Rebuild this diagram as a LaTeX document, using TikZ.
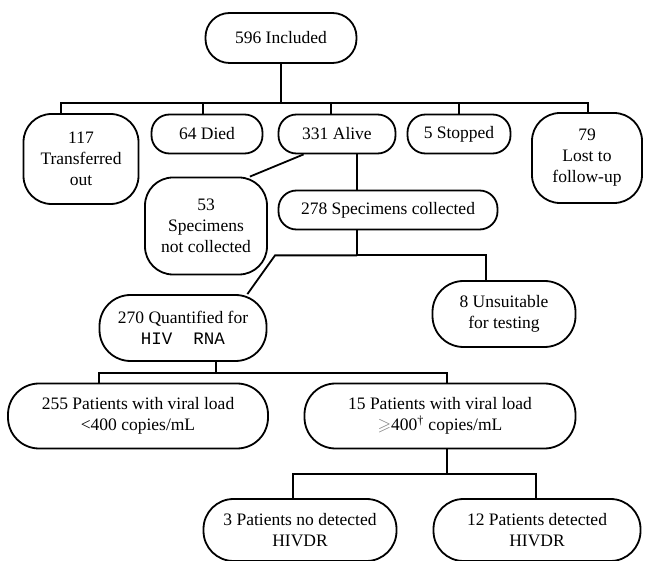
\documentclass[tikz,border=0pt]{standalone}
\usepackage{fontspec}
\usepackage{amssymb}
\setmainfont{Liberation Serif}
\setmonofont{Liberation Mono}
\usetikzlibrary{positioning}

\begin{document}
\begin{tikzpicture}[x=1pt, y=-1pt, on grid,
every node/.style={font=\fontsize{17.5}{21}\selectfont},
box/.style={draw, line width=1.8pt, align=center, inner sep=0pt, rounded corners=#1},
box/.default=18pt,
link/.style={line width=1.8pt}]

\useasboundingbox (0,0) rectangle (646,561);

\node (incl) [box=24pt, minimum width=151pt, minimum height=50pt] at (281,38) {596 Included};
\node (died) [box, minimum width=111pt, minimum height=39pt] at (207,134) {64 Died};
\node (alive) [box, minimum width=117pt, minimum height=39pt, right=130pt of died] {331 Alive};
\node (stop) [box, minimum width=103pt, minimum height=39pt, right=122pt of alive] {5 Stopped};
\node (trans) [box=28pt, minimum width=115pt, minimum height=90pt] at (81,159) {117\\Transferred\\out};
\node (lost) [box=28pt, minimum width=110pt, minimum height=90pt] at (587,158) {79\\Lost to\\follow-up};
\node (notcol) [box=28pt, minimum width=122pt, minimum height=97pt] at (206,226) {53\\Specimens\\not collected};
\node (coll) [box, minimum width=219pt, minimum height=39pt] at (388,210) {278 Specimens collected};
\node (unsuit) [box=31pt, minimum width=143pt, minimum height=66pt] at (504,314) {8 Unsuitable\\for testing};
\node (quant) [box=31pt, minimum width=167pt, minimum height=66pt] at (183,328) {270 Quantified for\\{\ttfamily HIV\ \ RNA}};
\node (low) [box=31pt, minimum width=260pt, minimum height=65pt] at (138,416) {255 Patients with viral load\\<400 copies/mL};
\node (high) [box=31pt, minimum width=271pt, minimum height=65pt] at (440,416) {15 Patients with viral load\\{\color{gray}$\geqslant$}400\textsuperscript{\textdagger} copies/mL};
\node (nodet) [box=30pt, minimum width=193pt, minimum height=62pt] at (300,530) {3 Patients no detected\\HIVDR};
\node (det) [box=30pt, minimum width=207pt, minimum height=62pt] at (537,530) {12 Patients detected\\HIVDR};

\draw [link] (incl.south) -- ++(0,39) coordinate (split0);
\foreach \n/\dx in {trans/-20pt, died/-4pt, alive/-6pt, stop/0pt, lost/1pt}
  \draw [link] (split0) -| ([xshift=\dx]\n.north);

\draw [link] ([xshift=26pt]alive.south west) -- ([xshift=-18pt]notcol.north east);
\draw [link] ([xshift=20pt]alive.south) -- ([xshift=20pt]alive.south |- coll.north);

\draw [link] ([xshift=-31pt]coll.south) -- ++(0,25) coordinate (split1);
\draw [link] (split1) -| ([xshift=-18pt]unsuit.north);
\draw [link] (split1) -- ++(-82,0) -- ([xshift=-20pt]quant.north east);

\draw [link] ([xshift=33pt]quant.south) -- ++(0,11) coordinate (split2);
\draw [link] (split2) -| ([xshift=-39pt]low.north);
\draw [link] (split2) -| ([xshift=7pt]high.north);

\draw [link] ([xshift=7pt]high.south) -- ++(0,25) coordinate (split3);
\draw [link] (split3) -| ([xshift=-7pt]nodet.north);
\draw [link] (split3) -| ([xshift=-1pt]det.north);
\end{tikzpicture}
\end{document}
